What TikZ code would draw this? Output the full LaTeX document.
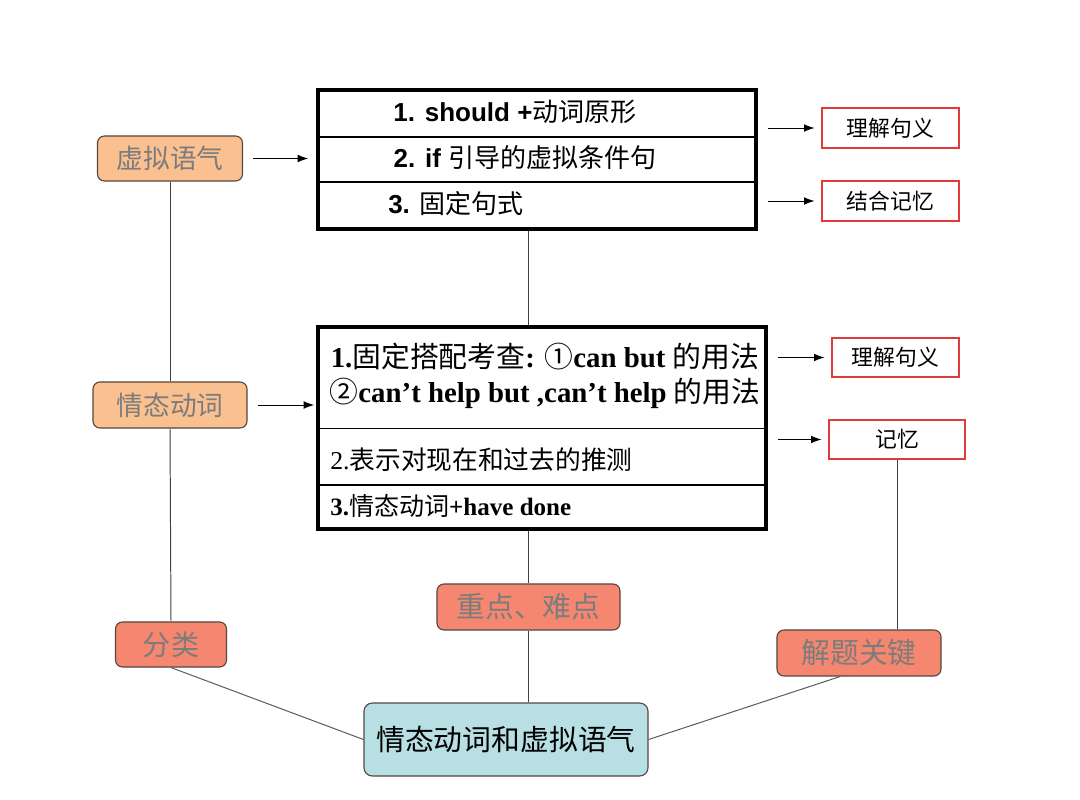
\documentclass[tikz,border=0pt]{standalone}
\usepackage{fontspec}
\setmainfont{Liberation Serif}
\newfontfamily\cjk{Noto Sans CJK SC}
\newfontfamily\arial{Liberation Sans}
\usetikzlibrary{arrows.meta}
\definecolor{orangefill}{HTML}{FAC090}
\definecolor{salmonfill}{HTML}{F5866F}
\definecolor{cyanfill}{HTML}{B8DFE3}
\definecolor{boxedge}{HTML}{554840}
\definecolor{greytext}{HTML}{7C7C7C}
\definecolor{redline}{HTML}{E23A3A}
\newcommand{\fsz}[1]{\fontsize{#1}{1.2\dimexpr #1pt\relax}\selectfont}

\begin{document}
\begin{tikzpicture}[x=0.025cm,y=-0.025cm,
    softbox/.style={draw=boxedge,line width=0.8pt,rounded corners=5pt,inner sep=0pt,text=greytext,font=\cjk\fsz{19}},
    redbox/.style={draw=redline,line width=0.9pt,inner sep=0pt,font=\cjk\fsz{15.5}},
    tablebox/.style={draw=black,line width=2.4pt,inner sep=0pt},
    arr/.style={-{Latex[length=7.5pt,width=5.5pt]},line width=0.7pt},
    link/.style={draw=black!75,line width=0.7pt}]
\useasboundingbox (0,0) rectangle (1080,800);

% left column
\node[softbox,fill=orangefill,minimum width=3.625cm,minimum height=1.125cm] (xn) at (170,158.5) {虚拟语气};
\node[softbox,fill=orangefill,minimum width=3.85cm,minimum height=1.15cm] (qt) at (170,405) {情态动词};
\node[softbox,fill=salmonfill,minimum width=2.775cm,minimum height=1.125cm,font=\cjk\fsz{20}] (fl) at (171,644.5) {分类};

% top table
\node[tablebox,minimum width=10.95cm,minimum height=3.475cm] (top) at (537,159.5) {};
\draw[line width=1.6pt] (top.west |- 0,137) -- (top.east |- 0,137);
\draw[line width=1.6pt] (top.west |- 0,182) -- (top.east |- 0,182);
\node[font=\fsz{18.5}] (t1) at (515,112) {{\arial\bfseries 1. should +}{\cjk 动词原形}};
\node[font=\fsz{18.5}] (t2) at (525,158) {{\arial\bfseries 2. if }{\cjk 引导的虚拟条件句}};
\node[font=\fsz{18.5},anchor=west,inner sep=0pt] (t3) at (388,204) {{\arial\bfseries 3. }{\cjk 固定句式}};

% middle table
\node[tablebox,minimum width=11.2cm,minimum height=5.05cm] (mid) at (542,428) {};
\draw[line width=0.6pt] (mid.west |- 0,428) -- (mid.east |- 0,428);
\draw[line width=1.8pt] (mid.west |- 0,485) -- (mid.east |- 0,485);
\node[font=\fsz{20.5},align=center,inner sep=0pt] (m1) at (545,376)
    {{\bfseries 1.}{\cjk 固定搭配考查}{\bfseries: }{\cjk ①}{\bfseries can but }{\cjk 的用法}\\
     {\cjk ②}{\bfseries can’t help but ,can’t help }{\cjk 的用法}};
\node[font=\fsz{18.3},anchor=west,inner sep=0pt] (m2) at (330,460) {2.{\cjk 表示对现在和过去的推测}};
\node[font=\fsz{17.8},anchor=west,inner sep=0pt] (m3) at (330,506) {{\bfseries 3.}{\cjk 情态动词}{\bfseries +have done}};

% right column
\node[redbox,minimum width=3.425cm,minimum height=1cm] (lj1) at (890.5,128) {理解句义};
\node[redbox,minimum width=3.425cm,minimum height=1cm] (jh) at (890.5,201) {结合记忆};
\node[redbox,minimum width=3.175cm,minimum height=0.975cm] (lj2) at (895.5,357.5) {理解句义};
\node[redbox,minimum width=3.4cm,minimum height=0.975cm] (jy) at (897,439.5) {记忆};

% bottom
\node[softbox,fill=salmonfill,minimum width=4.575cm,minimum height=1.15cm,font=\cjk\fsz{20.5}] (zd) at (528.5,607) {重点、难点};
\node[softbox,fill=salmonfill,minimum width=4.1cm,minimum height=1.15cm,font=\cjk\fsz{20.5}] (jt) at (859,653) {解题关键};
\node[softbox,fill=cyanfill,text=black,rounded corners=6pt,minimum width=7.1cm,minimum height=1.825cm,font=\cjk\fsz{20.5}] (cen) at (506,739.5) {情态动词和虚拟语气};

% arrows
\draw[arr,shorten <=0.25cm,shorten >=0.2cm] (xn.east) -- (xn.east -| top.west);
\draw[arr,shorten <=0.27cm,shorten >=0.05cm] (qt.east) -- (qt.east -| mid.west);
\draw[arr,shorten <=0.25cm,shorten >=0.17cm] (lj1.west -| top.east) -- (lj1.west);
\draw[arr,shorten <=0.25cm,shorten >=0.17cm] (jh.west -| top.east) -- (jh.west);
\draw[arr,shorten <=0.25cm,shorten >=0.17cm] (lj2.west -| mid.east) -- (lj2.west);
\draw[arr,shorten <=0.25cm,shorten >=0.17cm] (jy.west -| mid.east) -- (jy.west);

% links
\draw[link] (xn.south) -- (qt.north);
\draw[link] (qt.south) -- (fl.north);
\draw[link] (top.south -| zd.north) -- (mid.north -| zd.north);
\draw[link] (mid.south -| zd.north) -- (zd.north);
\draw[link] (zd.south) -- (zd.south |- cen.north);
\draw[link] (jy.south) -- (jy.south |- jt.north);
\draw[link,draw=black!65] (fl.south) -- (cen.west);
\draw[link,draw=black!65] ([xshift=-0.475cm]jt.south) -- (cen.east);
\end{tikzpicture}
\end{document}
